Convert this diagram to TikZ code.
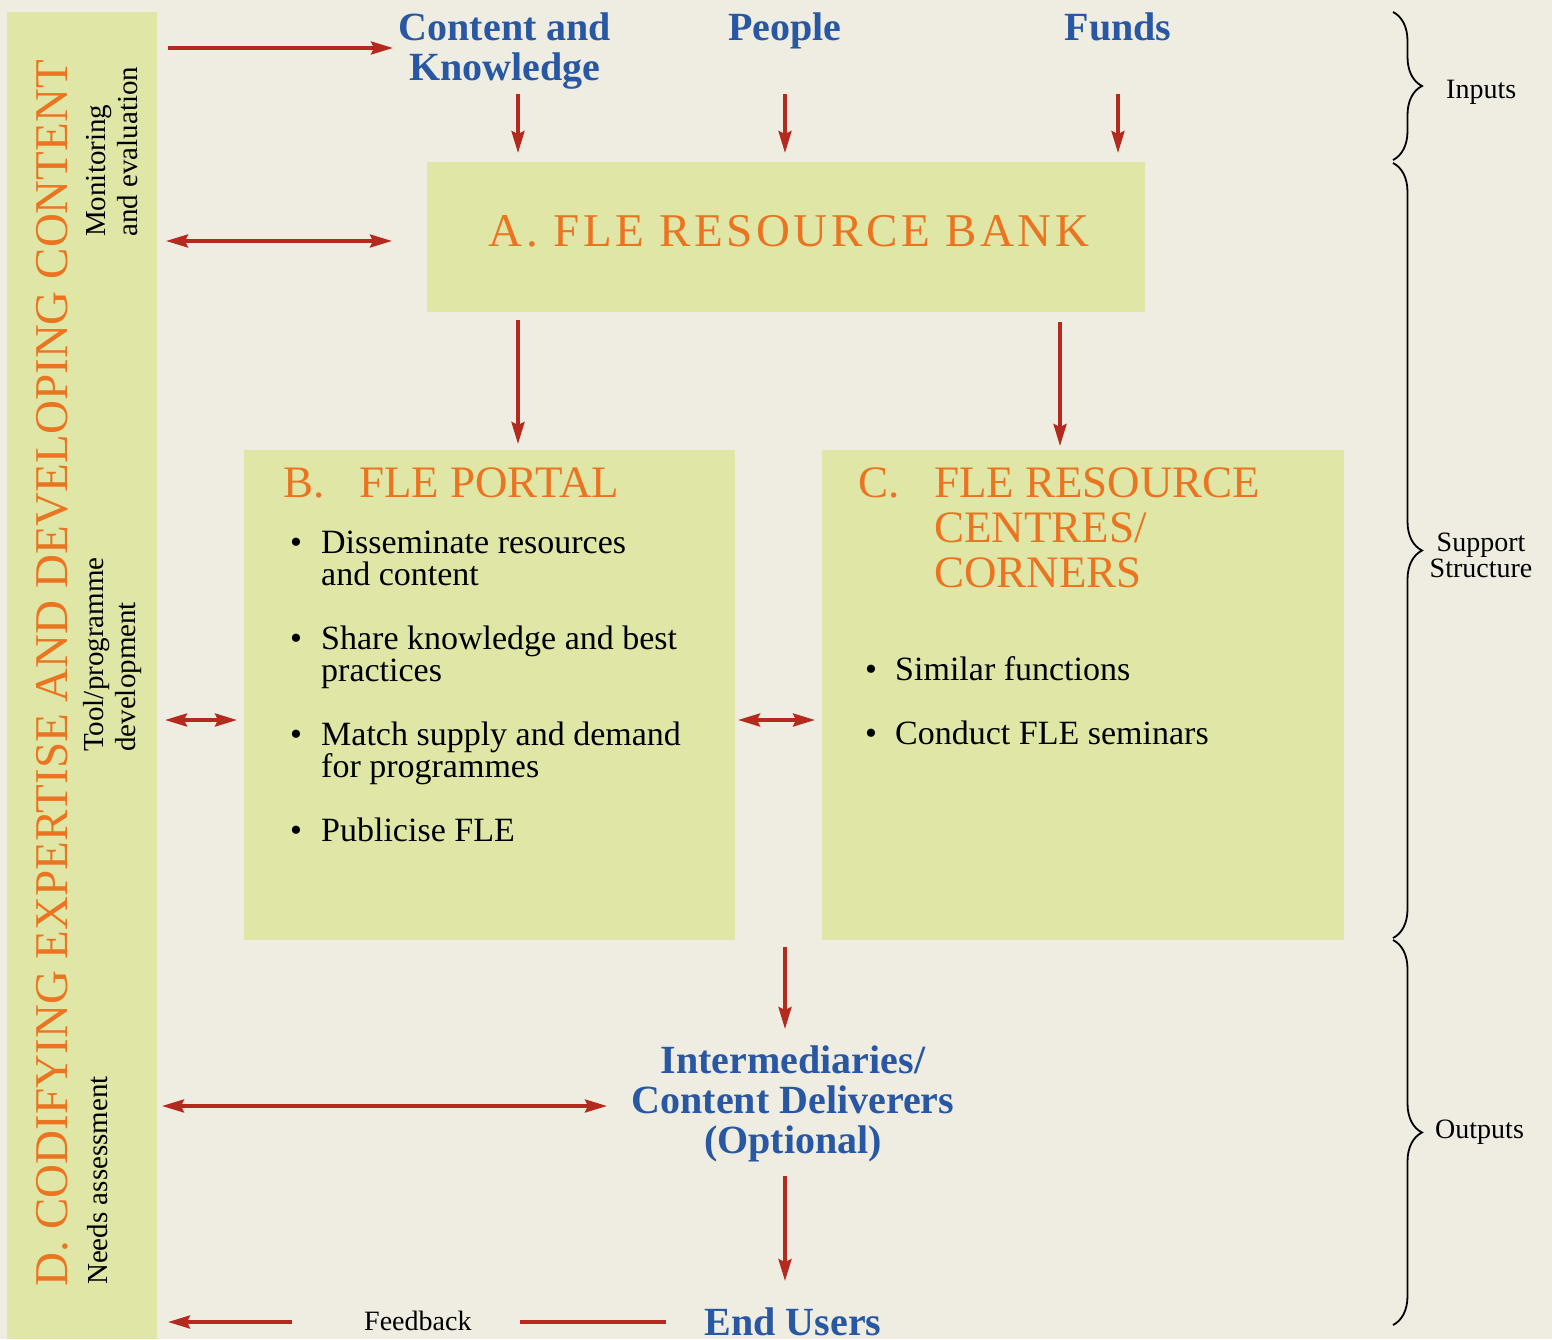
\documentclass[tikz,border=0pt]{standalone}
\usepackage{fontspec}
\setmainfont{Liberation Serif}
\usetikzlibrary{arrows.meta,decorations.pathreplacing,calc}
\definecolor{bgc}{HTML}{EFEDE2}
\definecolor{boxc}{HTML}{DFE6A6}
\definecolor{orng}{HTML}{EB7421}
\definecolor{blu}{HTML}{2857A4}
\definecolor{redc}{HTML}{B52A1E}
\newcommand\fsz[2]{\fontsize{#1}{#2}\selectfont}
\begin{document}
\begin{tikzpicture}[x=1pt,y=-1pt,
 panel/.style={fill=boxc, draw=none, inner sep=0pt, outer sep=0pt, anchor=north west},
 tip/.tip={Stealth[length=22pt,width=13pt,inset=3pt]},
 arr/.style={draw=redc, line width=3.5pt, -tip},
 darr/.style={draw=redc, line width=3.5pt, tip-tip},
 plainline/.style={draw=redc, line width=3.5pt},
 bluetxt/.style={text=blu, font=\fsz{40}{40}\bfseries, align=center, inner sep=0pt},
 sidetxt/.style={font=\fsz{28}{24}, inner sep=0pt, align=center},
 vtxt/.style={font=\fsz{29}{32}, rotate=90, inner sep=0pt, align=left, anchor=base west},
 orgtitle/.style={text=orng, inner sep=0pt, align=left, anchor=base west},
 itemtxt/.style={font=\fsz{34}{32}, inner sep=0pt, align=left, anchor=base west},
 brc/.style={draw=black, line width=1.8pt, decorate, decoration={brace, amplitude=29pt, aspect=0.5}},
]
\useasboundingbox (0,0) rectangle (1552,1339);
\fill[bgc] (0,0) rectangle (1552,1339);

% panels
\node[panel, minimum width=150, minimum height=1327] (dbar) at (7,12) {};
\node[panel, minimum width=718, minimum height=150] (A) at (427,162) {};
\node[panel, minimum width=491, minimum height=490] (B) at (244,450) {};
\node[panel, minimum width=522, minimum height=490] (C) at (822,450) {};

% vertical texts in D bar (base = baseline of last line)
\node[font=\fsz{47}{47}, text=orng, rotate=90, anchor=base west, inner sep=0pt] (dtitle) at (67,1287) {D. CODIFYING EXPERTISE AND DEVELOPING CONTENT};
\node[vtxt] (mon) at (137,237) {Monitoring\\and evaluation};
\node[vtxt] (tool) at (135,752) {Tool/programme\\development};
\node[vtxt] (needs) at (107,1285) {Needs assessment};

% inputs
\node[bluetxt, anchor=base] (ck) at (505,80) {Content and\\Knowledge};
\node[bluetxt, anchor=base] (people) at (785,40) {People};
\node[bluetxt, anchor=base] (funds) at (1118,40) {Funds};

% A title
\node[font=\fsz{47}{47}\addfontfeature{LetterSpace=7.6}, text=orng, anchor=base, inner sep=0pt] (At) at (789,246) {A. FLE RESOURCE BANK};

% B contents
\node[orgtitle, font=\fsz{45}{45}] (Bt) at (283,497) {\makebox[76pt][l]{B.}FLE PORTAL};
\node[itemtxt] (b1) at (290,585) {\makebox[31pt][l]{\textbullet}Disseminate resources\\\hspace*{31pt}and content};
\node[itemtxt] (b2) at (290,681) {\makebox[31pt][l]{\textbullet}Share knowledge and best\\\hspace*{31pt}practices};
\node[itemtxt] (b3) at (290,777) {\makebox[31pt][l]{\textbullet}Match supply and demand\\\hspace*{31pt}for programmes};
\node[itemtxt] (b4) at (290,841) {\makebox[31pt][l]{\textbullet}Publicise FLE};

% C contents
\node[orgtitle, font=\fsz{45}{45}] (Ct) at (858,587) {\makebox[76pt][l]{C.}FLE RESOURCE\\\hspace*{76pt}CENTRES/\\\hspace*{76pt}CORNERS};
\node[itemtxt] (c1) at (865,680) {\makebox[30pt][l]{\textbullet}Similar functions};
\node[itemtxt] (c2) at (865,744) {\makebox[30pt][l]{\textbullet}Conduct FLE seminars};

% outputs
\node[bluetxt, anchor=base] (inter) at (793,1153) {Intermediaries/\\Content Deliverers\\(Optional)};
\node[bluetxt, anchor=base] (endu) at (793,1335) {End Users};
\node[font=\fsz{28}{28}, inner sep=0pt, anchor=base west] (fb) at (364,1330) {Feedback};

% braces and labels
\coordinate (br1t) at (1393,12);  \coordinate (br1b) at (1393,160);
\coordinate (br2t) at (1393,163); \coordinate (br2b) at (1393,938);
\coordinate (br3t) at (1393,940); \coordinate (br3b) at (1393,1325);
\draw[brc] (br1t) -- (br1b);
\draw[brc] (br2t) -- (br2b);
\draw[brc] (br3t) -- (br3b);
\node[sidetxt, anchor=base west] (inp) at (1446,98) {Inputs};
\node[sidetxt, anchor=base] (sup) at (1481,577) {Support\\Structure};
\node[sidetxt, anchor=base west] (outp) at (1435,1138) {Outputs};

% connectors
\coordinate (ckin) at (393,48);
\coordinate (ain) at (392,241);
\coordinate (row2) at (500,720);
\coordinate (row3) at (607,1106);
\coordinate (row4) at (500,1322);
\coordinate (x1) at (518,94);
\coordinate (x2) at (1060,0);
\coordinate (x3) at (785,1029);
\coordinate (x4) at (785,1176);

\draw[arr, shorten <=11pt] (dbar.east |- ckin) -- (ckin);
\draw[darr, shorten <=9pt] (dbar.east |- ain) -- (ain);
\draw[darr, shorten <=8pt, shorten >=7pt] (dbar.east |- row2) -- (B.west |- row2);
\draw[darr, shorten <=3pt, shorten >=7pt] (B.east |- row2) -- (C.west |- row2);
\draw[darr, shorten <=5pt] (dbar.east |- row3) -- (row3);
\draw[arr, shorten <=72pt, shorten >=11pt] (fb.west |- row4) -- (dbar.east |- row4);
\draw[plainline, shorten <=38pt, shorten >=48pt] (endu.west |- row4) -- (fb.east |- row4);

\draw[arr, shorten >=9pt] (x1) -- (x1 |- A.north);
\draw[arr, shorten >=9pt] (people.south |- x1) -- (people.south |- A.north);
\draw[arr, shorten >=9pt] (funds.south |- x1) -- (funds.south |- A.north);
\draw[arr, shorten <=8pt, shorten >=6pt] (A.south -| x1) -- (B.north -| x1);
\draw[arr, shorten <=10pt, shorten >=4pt] (A.south -| x2) -- (C.north -| x2);
\draw[arr, shorten <=7pt] (B.south -| x3) -- (x3);
\draw[arr, shorten >=26pt] (x4) -- (x4 |- endu.north);
\end{tikzpicture}
\end{document}
